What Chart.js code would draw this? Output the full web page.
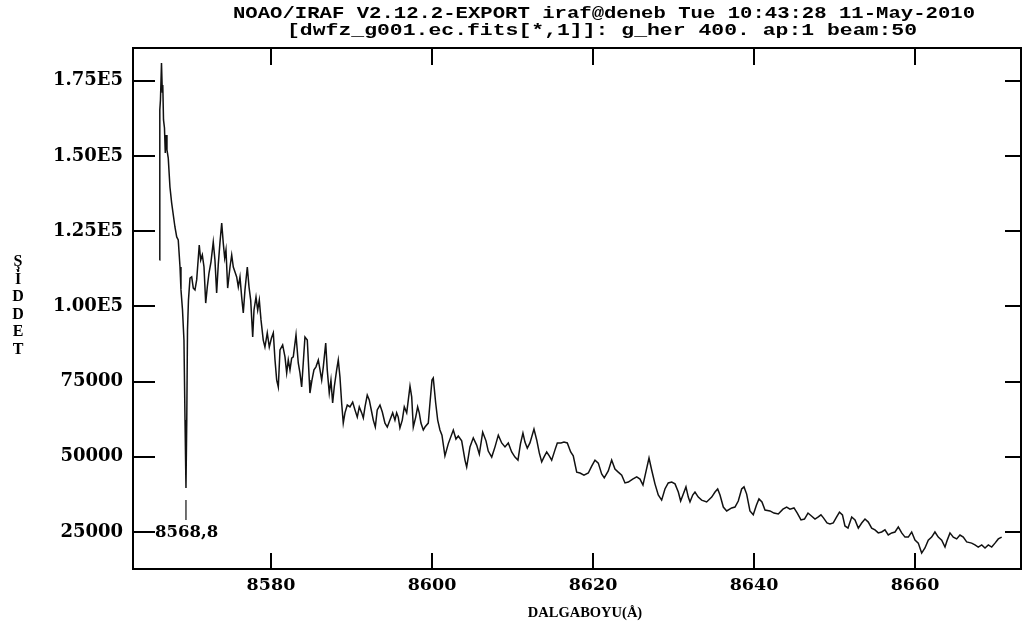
<!DOCTYPE html>
<html><head><meta charset="utf-8">
<script src="https://cdn.jsdelivr.net/npm/chart.js@4.4.1/dist/chart.umd.min.js"></script>
<style>html,body{margin:0;padding:0;background:#fff;overflow:hidden}#wrap{width:1023px;height:632px;position:relative}canvas{display:block}</style>
</head><body><div id="wrap"><canvas id="c" width="1023" height="632"></canvas></div>
<script>
const titleLines = ['NOAO/IRAF V2.12.2-EXPORT iraf@deneb Tue 10:43:28 11-May-2010', '[dwfz_g001.ec.fits[*,1]]: g_her 400. ap:1 beam:50'];
const xAxisTitle = 'DALGABOYU(Å)';
const yAxisTitleLetters = ['Ş', 'İ', 'D', 'D', 'E', 'T'];
const xTickValues = [8580, 8600, 8620, 8640, 8660];
const yTickValues = [25000, 50000, 75000, 100000, 125000, 150000, 175000];
const yTickLabels = ['25000', '50000', '75000', '1.00E5', '1.25E5', '1.50E5', '1.75E5'];
const xRange = [8562.86, 8673.17];
const yRange = [12700, 185900];
const markerLabel = '8568,8';
const markerWavelength = [8569.44, 8569.44];
const markerIntensity = [29000, 35600];

const wavelength = [
8566.15,8566.19,8566.27,8566.40,8566.50,8566.56,8566.65,8566.77,8566.87,8566.96,
8567.08,8567.24,8567.45,8567.66,8568.07,8568.29,8568.48,8568.70,8568.82,8569.01,
8569.19,8569.32,8569.44,8569.54,8569.63,8569.75,8569.94,8570.15,8570.35,8570.56,
8570.77,8571.09,8571.27,8571.47,8571.68,8571.89,8572.09,8572.30,8572.55,8572.83,
8573.04,8573.25,8573.45,8573.66,8573.88,8574.07,8574.25,8574.41,8574.62,8574.91,
8575.12,8575.32,8575.53,8575.74,8575.94,8576.15,8576.36,8576.56,8576.77,8577.06,
8577.27,8577.48,8577.73,8577.89,8578.14,8578.35,8578.55,8578.76,8579.04,8579.25,
8579.54,8579.79,8580.06,8580.29,8580.50,8580.71,8580.91,8581.12,8581.45,8581.74,
8581.95,8582.15,8582.36,8582.57,8582.77,8583.11,8583.39,8583.60,8583.81,8584.01,
8584.22,8584.51,8584.76,8584.84,8585.09,8585.34,8585.59,8585.88,8586.09,8586.30,
8586.50,8586.80,8586.99,8587.24,8587.45,8587.66,8587.86,8588.16,8588.36,8588.57,
8588.78,8588.98,8589.19,8589.48,8589.81,8590.15,8590.43,8590.72,8590.97,8591.27,
8591.47,8591.68,8591.96,8592.21,8592.51,8592.71,8592.96,8593.20,8593.54,8593.83,
8594.16,8594.45,8594.78,8595.12,8595.40,8595.61,8595.81,8596.02,8596.31,8596.56,
8596.86,8597.06,8597.27,8597.48,8597.68,8597.98,8598.22,8598.42,8598.63,8598.92,
8599.13,8599.54,8599.75,8600.00,8600.16,8600.46,8600.71,8600.99,8601.24,8601.61,
8602.02,8602.65,8602.98,8603.27,8603.69,8604.10,8604.31,8604.72,8605.13,8605.55,
8605.88,8606.30,8606.71,8606.99,8607.42,8607.83,8608.24,8608.66,8609.07,8609.48,
8609.90,8610.31,8610.68,8610.99,8611.30,8611.55,8611.84,8612.17,8612.67,8613.01,
8613.33,8613.63,8613.91,8614.25,8614.57,8614.87,8615.28,8615.57,8616.02,8616.40,
8616.81,8617.23,8617.55,8617.98,8618.39,8618.88,8619.42,8619.84,8620.25,8620.66,
8621.08,8621.40,8621.90,8622.32,8622.73,8623.14,8623.57,8623.98,8624.39,8624.93,
8625.43,8625.84,8626.21,8626.65,8626.96,8627.29,8627.70,8628.11,8628.53,8628.94,
8629.35,8629.78,8630.19,8630.60,8630.89,8631.22,8631.55,8631.84,8632.05,8632.39,
8632.67,8633.08,8633.50,8634.12,8634.75,8635.16,8635.49,8635.78,8636.19,8636.61,
8637.23,8637.64,8638.05,8638.47,8638.76,8639.09,8639.50,8639.91,8640.31,8640.62,
8640.99,8641.37,8641.99,8642.48,8643.02,8643.60,8644.06,8644.47,8644.97,8645.38,
8645.84,8646.27,8646.71,8647.14,8647.58,8647.99,8648.32,8648.63,8649.07,8649.44,
8649.85,8650.27,8650.62,8650.99,8651.30,8651.68,8652.14,8652.55,8652.96,8653.38,
8653.79,8654.20,8654.62,8655.03,8655.44,8655.86,8656.27,8656.68,8657.11,8657.52,
8657.93,8658.35,8658.76,8659.17,8659.59,8660.00,8660.41,8660.83,8661.24,8661.65,
8662.07,8662.48,8662.89,8663.32,8663.73,8664.01,8664.35,8664.76,8665.18,8665.59,
8666.00,8666.42,8667.04,8667.45,8667.86,8668.29,8668.70,8669.11,8669.53,8669.94,
8670.35,8670.77
];
const intensity = [
115400,165300,168600,180900,171300,173600,162000,159300,151000,157000,
152000,149300,139700,134400,126400,123100,122100,113100,105500,98800,
88800,62200,39600,62200,92200,102100,109400,109800,106100,105500,
108800,120400,115400,117100,113100,101100,106500,111100,114800,121400,
115400,104500,113800,121100,127700,121100,116100,118800,106100,113100,
117100,113100,111400,109800,106500,109800,103100,97800,105500,113100,
106500,102100,89800,98800,103100,98800,102100,95500,88800,86500,
91200,86500,89500,91200,82200,75500,73200,85500,87200,83200,
77900,82200,78900,82800,83200,90500,81200,77900,73200,81200,
89800,88800,75500,71200,75500,78900,79900,82200,78900,75500,
79900,87800,78900,71200,75500,67900,73200,78900,82200,76500,
67900,61200,64600,67200,66600,68200,65600,63200,66600,64600,
62900,66600,70500,68900,64900,62200,59900,65600,67200,64900,
61200,59900,62200,64600,62200,64600,63200,59600,62200,66600,
64600,68900,73500,69900,59900,63200,66600,64600,61200,58900,
59900,61200,67900,75500,76200,67900,62200,58900,57200,50300,
54300,58900,55900,56900,55300,48900,46600,53300,56300,53900,
50900,58200,55300,51900,49900,53300,57200,54600,53300,54600,
51600,49900,48900,54300,57900,54900,52900,54600,59200,55600,
51300,48300,49900,51600,50300,48900,52300,54600,54600,54900,
54600,51600,50300,44900,44600,43900,44600,46900,48900,47900,
44300,43000,45300,48900,45900,44900,43900,41300,41600,42600,
43300,42600,40600,45900,49600,45600,41000,37300,35600,39300,
41300,41600,41000,38300,35300,37600,40000,36600,35000,37300,
38300,36600,35600,35000,36600,38300,39300,37300,33300,32000,
33000,33300,35300,39300,40000,37600,32000,30700,34000,36000,
35000,32300,32000,31300,31000,32600,33300,32600,33000,31300,
29000,29300,31300,30300,29300,30000,30700,29700,28000,27700,
28000,30000,31600,30700,27000,26300,30000,29000,26300,28000,
29300,28300,26300,25700,24700,25000,25700,24000,24700,25000,
26700,24700,23300,23300,25000,22300,21300,18000,19700,22300,
23300,25000,23300,22300,20000,22300,24700,23300,22700,24000,
23300,21700,21300,20700,20000,20700,19700,20700,20000,21300,
22700,23300
];

function drawStretched(ctx, text, cx, cy, width, font) {
  ctx.save();
  ctx.font = font;
  const w = ctx.measureText(text).width;
  ctx.translate(cx, cy);
  ctx.scale(width / w, 1);
  ctx.textAlign = 'center';
  ctx.textBaseline = 'middle';
  ctx.fillText(text, 0, 0);
  ctx.restore();
}

const frameAndText = {
  id: 'frameAndText',
  afterDraw(chart) {
    const ctx = chart.ctx, a = chart.chartArea, xs = chart.scales.x, ys = chart.scales.y;
    ctx.save();
    ctx.strokeStyle = '#000';
    ctx.lineWidth = 2;
    ctx.strokeRect(a.left, a.top, a.right - a.left, a.bottom - a.top);
    ctx.beginPath();
    xTickValues.forEach(v => {
      const px = Math.round(xs.getPixelForValue(v));
      ctx.moveTo(px, a.bottom); ctx.lineTo(px, a.bottom - 16);
      ctx.moveTo(px, a.top); ctx.lineTo(px, a.top + 17);
    });
    yTickValues.forEach(v => {
      const py = Math.round(ys.getPixelForValue(v));
      ctx.moveTo(a.left, py); ctx.lineTo(a.left + 22, py);
      ctx.moveTo(a.right, py); ctx.lineTo(a.right - 16, py);
    });
    ctx.stroke();
    ctx.fillStyle = '#000';
    drawStretched(ctx, titleLines[0], 604, 14, 742, 'bold 17px "Liberation Mono"');
    drawStretched(ctx, titleLines[1], 602, 31, 630, 'bold 17px "Liberation Mono"');
    ctx.textAlign = 'center';
    ctx.textBaseline = 'middle';
    ctx.font = 'bold 14.5px "Liberation Serif"';
    ctx.fillText(xAxisTitle, 585, 613);
    ctx.font = 'bold 16px "Liberation Serif"';
    yAxisTitleLetters.forEach((ch, i) => ctx.fillText(ch, 18, 262 + i * 17.5));
    ctx.textAlign = 'left';
    ctx.font = 'bold 16.5px "DejaVu Serif"';
    ctx.fillText(markerLabel, a.left + 22, ys.getPixelForValue(25000) + 1);
    ctx.restore();
  }
};

new Chart(document.getElementById('c'), {
  type: 'line',
  data: {
    datasets: [
      {
        data: wavelength.map((w, i) => ({ x: w, y: intensity[i] })),
        borderColor: '#111', borderWidth: 1.5, pointRadius: 0, tension: 0, fill: false
      },
      {
        data: markerWavelength.map((w, i) => ({ x: w, y: markerIntensity[i] })),
        borderColor: '#111', borderWidth: 1.2, pointRadius: 0, fill: false
      }
    ]
  },
  options: {
    responsive: false, animation: false, devicePixelRatio: 1,
    layout: { padding: { left: 0, right: 2, top: 48, bottom: 0 } },
    plugins: { legend: { display: false }, title: { display: false }, tooltip: { enabled: false } },
    scales: {
      x: {
        type: 'linear', min: xRange[0], max: xRange[1],
        afterBuildTicks: s => { s.ticks = xTickValues.map(v => ({ value: v })); },
        afterFit: s => { s.height = 63; },
        grid: { display: false, drawTicks: false }, border: { display: false },
        ticks: { padding: 6, color: '#000', font: { family: 'DejaVu Serif', size: 17.5, weight: 'bold' }, callback: v => String(v), maxRotation: 0, autoSkip: false }
      },
      y: {
        type: 'linear', min: yRange[0], max: yRange[1],
        afterBuildTicks: s => { s.ticks = yTickValues.map(v => ({ value: v })); },
        afterFit: s => { s.width = 133; },
        grid: { display: false, drawTicks: false }, border: { display: false },
        ticks: { padding: 10, color: '#000', font: { family: 'DejaVu Serif', size: 18, weight: 'bold' }, callback: (v) => yTickLabels[yTickValues.indexOf(v)], autoSkip: false }
      }
    }
  },
  plugins: [frameAndText]
});
</script>
</body></html>
